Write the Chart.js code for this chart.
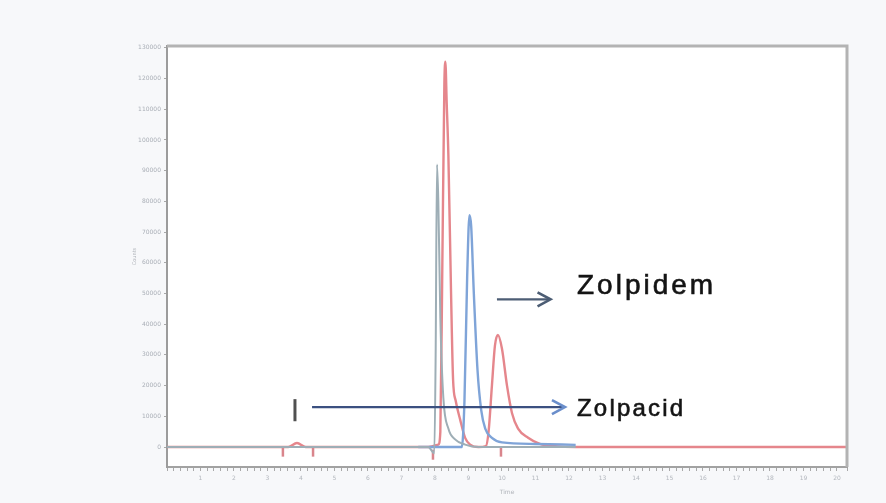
<!DOCTYPE html>
<html>
<head>
<meta charset="utf-8">
<script src="https://cdn.jsdelivr.net/npm/chart.js@4.4.1/dist/chart.umd.min.js"></script>
<style>
  html, body { margin: 0; padding: 0; background: #f7f8fa; }
  #wrap { width: 886px; height: 503px; position: relative; }
  #c { filter: blur(0.5px); }
</style>
</head>
<body>
<div id="wrap"><canvas id="c"></canvas></div>
<script>
// ---- data (retention time in minutes, intensity in counts) ----
const redX  = [0, 3.1, 3.62, 3.88, 4.14, 7.8, 8.1, 8.16, 8.22, 8.28, 8.31, 8.35, 8.40, 8.48, 8.54, 8.62, 8.75, 8.9, 9.05, 9.3, 9.52, 9.6, 9.7, 9.79, 9.88, 10.0, 10.15, 10.3, 10.48, 10.78, 11.13, 11.58, 12.2, 20.3];
const redY  = [0, 0, 0, 1300, 0, 0, 800, 5000, 60000, 118000, 125500, 112000, 95000, 50000, 22000, 15000, 9000, 3000, 800, 0, 300, 5000, 20000, 33000, 36500, 32000, 20000, 11000, 6000, 3000, 1000, 300, 0, 0];

const grayX = [0, 7.8, 7.98, 8.02, 8.06, 8.10, 8.16, 8.25, 8.4, 8.6, 8.9, 9.3, 12.2];
const grayY = [0, 0, -2000, 30000, 92000, 80000, 42000, 16000, 6000, 2500, 800, 0, 0];

const blueX = [7.5, 8.80, 8.88, 8.96, 9.03, 9.08, 9.16, 9.27, 9.38, 9.5, 9.7, 10.0, 11.0, 12.2];
const blueY = [0, 0, 15000, 55000, 75500, 72000, 50000, 25000, 12000, 6000, 3000, 1500, 1000, 700];

const markerX = [3.46, 4.36, 7.94, 9.97];
const markerY = [-1500, -1500, -2500, -1500];

const flagX = [3.82, 3.82];
const flagY = [8400, 15600];

const labels      = ["Zolpidem", "Zolpacid"];
const labelX      = [12.24, 12.24];
const labelY      = [52300, 12300];
const arrowFromX  = [9.85, 4.33];
const arrowToX    = [11.45, 11.88];
const arrowY      = [48100, 13000];

const xMin = 0, xMax = 20.3, xStep = 0.2;
const yMin = -6500, yMax = 130600, yStep = 10000, yTickMax = 130000;

const pts = (xs, ys) => xs.map((x, i) => ({ x: x, y: ys[i] }));

const annot = {
  id: 'annot',
  beforeDraw(chart) {
    const { ctx, chartArea: a } = chart;
    ctx.save();
    ctx.fillStyle = '#ffffff';
    ctx.fillRect(a.left, a.top, a.right - a.left, a.bottom - a.top);
    ctx.restore();
  },
  afterDatasetsDraw(chart) {
    const { ctx, chartArea: a } = chart;
    const xs = chart.scales.x, ys = chart.scales.y;
    ctx.save();
    // top & right frame
    ctx.strokeStyle = '#b3b3b3';
    ctx.lineWidth = 3;
    ctx.beginPath();
    ctx.moveTo(a.left, a.top); ctx.lineTo(a.right, a.top); ctx.lineTo(a.right, a.bottom);
    ctx.stroke();

    // arrows
    const lineCols = ['#4c5d74', '#3b5080'];
    const headCols = ['#4c5d74', '#6a8ecb'];
    for (let i = 0; i < arrowY.length; i++) {
      const x1 = xs.getPixelForValue(arrowFromX[i]);
      const x2 = xs.getPixelForValue(arrowToX[i]);
      const y = ys.getPixelForValue(arrowY[i]);
      ctx.strokeStyle = lineCols[i];
      ctx.lineWidth = 2.2;
      ctx.beginPath(); ctx.moveTo(x1, y); ctx.lineTo(x2 - 2, y); ctx.stroke();
      ctx.strokeStyle = headCols[i];
      ctx.lineWidth = 2.6;
      ctx.beginPath();
      ctx.moveTo(x2 - 13, y - 7); ctx.lineTo(x2, y); ctx.lineTo(x2 - 13, y + 7);
      ctx.stroke();
    }

    // labels
    const sizes = [28, 24];
    const spacing = ['3px', '2.2px'];
    ctx.fillStyle = '#141414';
    ctx.strokeStyle = '#141414';
    ctx.lineWidth = 0.6;
    ctx.textBaseline = 'middle';
    ctx.textAlign = 'left';
    for (let i = 0; i < labels.length; i++) {
      ctx.font = sizes[i] + 'px "Liberation Sans", Arial, sans-serif';
      if ('letterSpacing' in ctx) ctx.letterSpacing = spacing[i];
      const px = xs.getPixelForValue(labelX[i]), py = ys.getPixelForValue(labelY[i]);
      ctx.fillText(labels[i], px, py);
      ctx.strokeText(labels[i], px, py);
    }
    ctx.restore();
  }
};

new Chart(document.getElementById('c'), {
  type: 'line',
  data: {
    datasets: [
      { label: 'gray', data: pts(grayX, grayY), borderColor: '#9eaeb6', borderWidth: 2, pointRadius: 0, cubicInterpolationMode: 'monotone' },
      { label: 'blue', data: pts(blueX, blueY), borderColor: '#7fa4d8', borderWidth: 2.4, pointRadius: 0, cubicInterpolationMode: 'monotone' },
      { label: 'red',  data: pts(redX, redY),  borderColor: '#e5868c', borderWidth: 2.4, pointRadius: 0, cubicInterpolationMode: 'monotone' },
      { label: 'marks', data: pts(markerX, markerY), showLine: false, pointStyle: 'line', rotation: 90, pointRadius: 5, pointBorderWidth: 2.5, pointBorderColor: '#d9858c', borderColor: '#d9858c' },
      { label: 'flag', data: pts(flagX, flagY), borderColor: '#505050', borderWidth: 3, pointRadius: 0 }
    ]
  },
  options: {
    responsive: true,
    maintainAspectRatio: false,
    animation: false,
    layout: { padding: { left: 130, right: 39, top: 46, bottom: 0 } },
    plugins: { legend: { display: false }, tooltip: { enabled: false }, title: { display: false } },
    scales: {
      x: {
        type: 'linear', min: xMin, max: xMax,
        afterFit: s => { s.height = 36; },
        border: { display: true, color: '#a2a2a2', width: 2 },
        grid: { drawOnChartArea: false, drawTicks: true, tickLength: 4, color: '#a8a8a8', lineWidth: 1 },
        ticks: {
          stepSize: xStep, autoSkip: false, maxRotation: 0, padding: 4,
          color: '#b3b7be', font: { size: 6, family: 'DejaVu Sans' },
          callback: v => (Math.abs(v - Math.round(v)) < 1e-6 && Math.round(v) > 0) ? String(Math.round(v)) : ''
        },
        title: { display: true, text: 'Time', color: '#b0b4ba', font: { size: 6, family: 'DejaVu Sans' }, padding: { top: 2, bottom: 7 } }
      },
      y: {
        type: 'linear', min: yMin, max: yMax,
        afterFit: s => { s.width = 37; },
        afterBuildTicks: s => {
          const t = [];
          for (let v = 0; v <= yTickMax; v += yStep) t.push({ value: v });
          s.ticks = t;
        },
        border: { display: true, color: '#9c9c9c', width: 2 },
        grid: { drawOnChartArea: false, drawTicks: true, tickLength: 3, color: '#a8a8a8' },
        ticks: {
          autoSkip: false, padding: 3,
          color: '#a9aeb6', font: { size: 6, family: 'DejaVu Sans' },
          callback: v => String(v)
        },
        title: { display: true, text: 'Counts', color: '#b0b4ba', font: { size: 5, family: 'DejaVu Sans' }, padding: 2 }
      }
    }
  },
  plugins: [annot]
});
</script>
</body>
</html>
